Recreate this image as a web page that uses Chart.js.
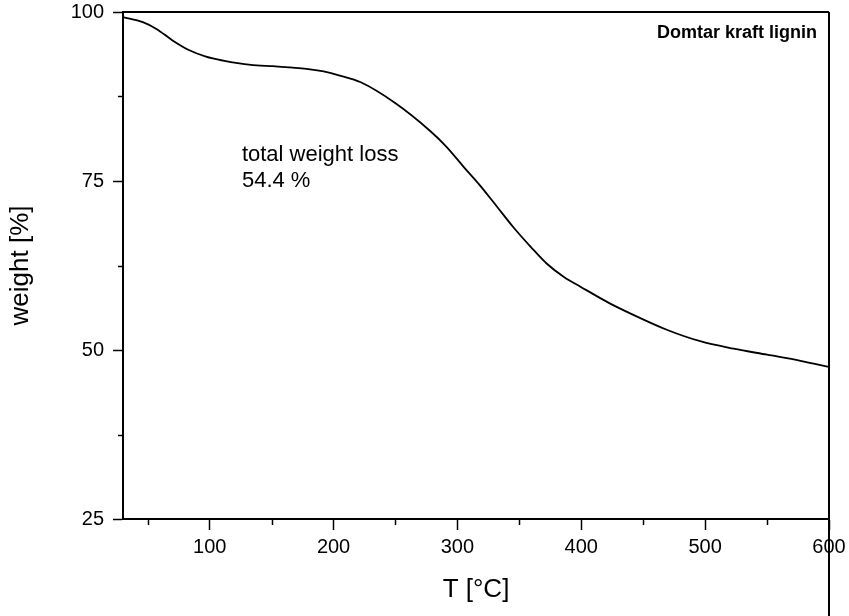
<!DOCTYPE html>
<html>
<head>
<meta charset="utf-8">
<script src="https://cdn.jsdelivr.net/npm/chart.js@4/dist/chart.umd.min.js"></script>
<style>
  html, body { margin: 0; padding: 0; background: #fff; }
  #wrap { width: 849px; height: 616px; position: relative; }
</style>
</head>
<body>
<div id="wrap"><canvas id="tga"></canvas></div>
<script>
// TGA curve of Domtar kraft lignin: temperature (°C) vs. remaining weight (%)
const temperature = [30, 46, 57, 70, 84, 97, 111, 124, 138, 151, 165, 178, 192, 205, 222, 250, 278, 291, 305, 318, 332, 345, 359, 372, 386, 399, 423, 442, 469, 496, 523, 550, 577, 600];
const weight = [99.25, 98.5, 97.5, 95.8, 94.3, 93.4, 92.8, 92.4, 92.1, 92.0, 91.8, 91.6, 91.2, 90.6, 89.6, 86.5, 82.4, 80.1, 77.1, 74.4, 71.2, 68.2, 65.3, 62.8, 60.8, 59.4, 56.9, 55.2, 53.0, 51.3, 50.2, 49.3, 48.4, 47.5];

const xMajorTicks = [100, 200, 300, 400, 500, 600];
const xMinorTicks = [50, 150, 250, 350, 450, 550];
const yMajorTicks = [25, 50, 75, 100];
const yMinorTicks = [37.5, 62.5, 87.5];

const sampleName = 'Domtar kraft lignin';
const lossNote = ['total weight loss', '54.4 %'];
const lossNoteAt = { x: 126, y: 78.8 };

const FONT = '"Liberation Sans", Arial, Helvetica, sans-serif';
Chart.defaults.color = '#000';
Chart.defaults.font.family = FONT;

// frame, minor ticks and text annotations
const decorations = {
  id: 'decorations',
  afterDraw(chart) {
    const { ctx, chartArea: a, scales: { x, y } } = chart;
    ctx.save();
    ctx.strokeStyle = '#000';
    // top and right edges of the frame
    ctx.lineWidth = 2;
    ctx.beginPath();
    ctx.moveTo(a.left, a.top);
    ctx.lineTo(a.right, a.top);
    ctx.stroke();
    ctx.beginPath();
    ctx.moveTo(x.getPixelForValue(600), a.top);
    ctx.lineTo(x.getPixelForValue(600), chart.height);
    ctx.stroke();
    // minor ticks
    ctx.lineWidth = 1.5;
    xMinorTicks.forEach(v => {
      const px = Math.round(x.getPixelForValue(v)) + 0.5;
      ctx.beginPath();
      ctx.moveTo(px, a.bottom);
      ctx.lineTo(px, a.bottom + 6);
      ctx.stroke();
    });
    yMinorTicks.forEach(v => {
      const py = Math.round(y.getPixelForValue(v)) + 0.5;
      ctx.beginPath();
      ctx.moveTo(a.left - 5, py);
      ctx.lineTo(a.left, py);
      ctx.stroke();
    });
    // sample name
    ctx.fillStyle = '#000';
    ctx.font = 'bold 18px ' + FONT;
    ctx.textAlign = 'right';
    ctx.textBaseline = 'middle';
    ctx.fillText(sampleName, a.right - 12, a.top + 21);
    // weight-loss note
    ctx.font = '22px ' + FONT;
    ctx.textAlign = 'left';
    const nx = x.getPixelForValue(lossNoteAt.x);
    const ny = y.getPixelForValue(lossNoteAt.y);
    lossNote.forEach((line, i) => ctx.fillText(line, nx, ny + i * 26));
    ctx.restore();
  }
};

new Chart(document.getElementById('tga'), {
  type: 'line',
  data: {
    datasets: [{
      data: temperature.map((t, i) => ({ x: t, y: weight[i] })),
      borderColor: '#000',
      borderWidth: 1.8,
      pointRadius: 0,
      fill: false,
      cubicInterpolationMode: 'monotone'
    }]
  },
  options: {
    responsive: true,
    maintainAspectRatio: false,
    animation: false,
    layout: { padding: { top: 12, right: 20, left: 0, bottom: 0 } },
    plugins: { legend: { display: false }, tooltip: { enabled: false } },
    scales: {
      x: {
        type: 'linear',
        min: 30,
        max: 600,
        afterBuildTicks: s => { s.ticks = xMajorTicks.map(v => ({ value: v })); },
        afterFit: s => { s.height = 97; s.paddingLeft = 0; s.paddingRight = 0; },
        border: { display: true, color: '#000', width: 2 },
        grid: { drawOnChartArea: false, drawTicks: true, tickLength: 11, tickColor: '#000', tickWidth: 1.5 },
        ticks: { autoSkip: false, maxRotation: 0, padding: 5, font: { size: 20 }, color: '#000' },
        title: { display: true, text: 'T [°C]', font: { size: 26 }, color: '#000', padding: { top: 0, bottom: 11 } }
      },
      y: {
        type: 'linear',
        min: 25,
        max: 100,
        afterBuildTicks: s => { s.ticks = yMajorTicks.map(v => ({ value: v })); },
        afterFit: s => { s.width = 123; s.paddingTop = 0; s.paddingBottom = 0; },
        border: { display: true, color: '#000', width: 2 },
        grid: { drawOnChartArea: false, drawTicks: true, tickLength: 10, tickColor: '#000', tickWidth: 1.5 },
        ticks: { padding: 9, font: { size: 20 }, color: '#000' },
        title: { display: true, text: 'weight [%]', font: { size: 26 }, color: '#000', padding: { top: 5, bottom: 5 } }
      }
    }
  },
  plugins: [decorations]
});
</script>
</body>
</html>
